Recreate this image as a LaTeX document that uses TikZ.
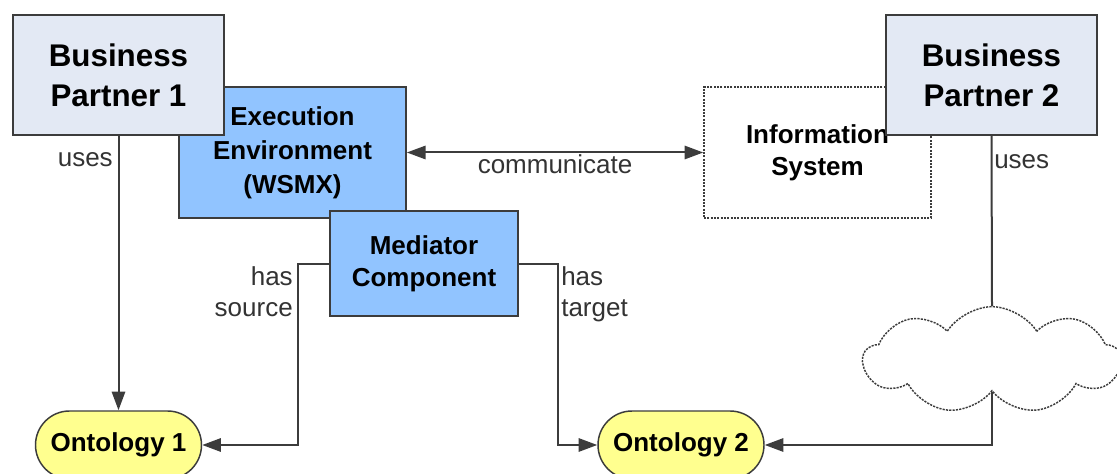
\documentclass[tikz,border=0pt]{standalone}
\usepackage{fontspec}
\setmainfont{Liberation Sans}
\usetikzlibrary{arrows.meta,shapes.symbols}
\definecolor{bpfill}{HTML}{E3E9F4}
\definecolor{bluefill}{HTML}{91C4FF}
\definecolor{ontfill}{HTML}{FFFF8F}
\definecolor{linec}{HTML}{3C3C3C}
\definecolor{labc}{HTML}{333333}
\tikzset{
  bpbox/.style={draw=linec, line width=1.4pt, fill=bpfill, align=center, inner sep=0pt,
    minimum width=158.25pt, minimum height=90pt, font=\fontsize{23.5}{30}\selectfont\bfseries},
  bluebox/.style={draw=linec, line width=1.3pt, fill=bluefill, align=center, inner sep=0pt,
    font=\fontsize{19.5}{25}\selectfont\bfseries},
  infobox/.style={draw=linec, line width=1.1pt, dash pattern=on 1.6pt off 0.9pt, fill=white, align=center, inner sep=0pt,
    minimum width=170.25pt, minimum height=98.25pt, font=\fontsize{19.5}{24}\selectfont\bfseries},
  ontbox/.style={draw=linec, line width=1.1pt, fill=ontfill, rounded corners=25.5pt, inner sep=0pt,
    minimum width=124.5pt, minimum height=51pt, font=\fontsize{19.5}{24}\selectfont\bfseries},
  cloudbox/.style={cloud, cloud puffs=9, cloud puff arc=115, draw=linec, line width=1.1pt,
    dash pattern=on 1.6pt off 0.9pt, inner sep=0pt, aspect=2.4, minimum width=193pt, minimum height=80pt},
  conn/.style={draw=linec, line width=1.5pt},
  arr/.style={conn, -{Triangle[length=14pt,width=10pt]}},
  biarr/.style={conn, {Triangle[length=14pt,width=10pt]}-{Triangle[length=14pt,width=10pt]}},
  lab/.style={text=labc, inner sep=0pt, font=\fontsize{19.5}{23.5}\selectfont},
}
\begin{document}
\begin{tikzpicture}[x=0.75pt, y=-0.75pt]
\clip (0,0) rectangle (1117,474);
\fill[white] (0,0) rectangle (1117,474);
% nodes
\node[bluebox, minimum width=170.25pt, minimum height=98.25pt, font=\fontsize{19.5}{25.5}\selectfont\bfseries] (exec) at (292.5,152.5) {Execution\\Environment\\(WSMX)};
\node[infobox] (info) at (817.5,152.5) {Information\\System};
\node[bluebox, minimum width=141pt, minimum height=78.75pt, font=\fontsize{19.5}{24}\selectfont\bfseries] (med) at (424,263.5) {Mediator\\Component};
\node[bpbox] (bp1) at (118.5,75) {Business\\Partner 1};
\node[bpbox] (bp2) at (991.5,75) {Business\\Partner 2};
\node[ontbox] (ont1) at (118.5,445) {Ontology 1};
\node[ontbox] (ont2) at (681,445) {Ontology 2};
\node[cloudbox] (cloud) at (992,360) {};
% connectors
\draw[arr] (bp1.south) -- (ont1.north);
\node[lab, anchor=east] (l1) at (113,160) {uses};
\draw[biarr] (exec.east) -- node[lab, below=1pt] (l2) {communicate} (info.west);
\draw[arr] (med.west) -- ++(-31,0) |- (ont1.east);
\node[lab, anchor=north east, align=right] (l3) at (293,266) {has\\source};
\draw[arr] (med.east) -- ++(39,0) |- (ont2.west);
\node[lab, anchor=north west, align=left] (l4) at (561,266) {has\\target};
\draw[conn] (bp2.south) -- (cloud.north);
\node[lab, anchor=west] (l5) at (994,162) {uses};
\draw[arr] (cloud.south) |- (ont2.east);
\end{tikzpicture}
\end{document}
